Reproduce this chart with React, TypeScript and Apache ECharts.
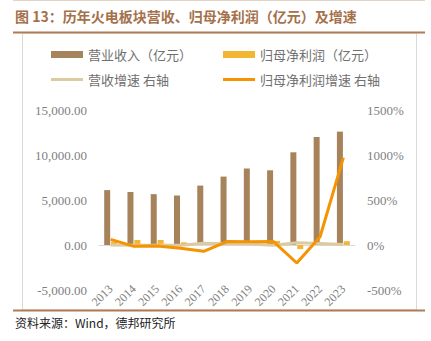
import React, { useEffect, useRef } from "react";
import * as echarts from "echarts";

const years = ["2013", "2014", "2015", "2016", "2017", "2018", "2019", "2020", "2021", "2022", "2023"];
const revenue = [6100, 5900, 5650, 5500, 6600, 7600, 8500, 8300, 10300, 12000, 12600];
const netProfit = [400, 560, 560, 300, 100, 200, 300, 450, -450, -20, 420];
const revenueGrowth = [0, -3, -4, -3, 20, 15, 12, -2, 24, 17, 5];
const profitGrowth = [63, -15, -10, -35, -70, 38, 36, 38, -200, 92, 970];

const leftTicks = [-5000, 15000, 5000];
const rightTicks = [-500, 1500, 500];

const titleText = "图 13：历年火电板块营收、归母净利润（亿元）及增速";
const sourceText = "资料来源：Wind，德邦研究所";

const CJK = "Noto Sans CJK SC";
const SERIF = "Liberation Serif, Times New Roman, serif";

export default function App() {
  const ref = useRef<HTMLDivElement>(null);
  useEffect(() => {
    if (!ref.current) return;
    const chart = echarts.init(ref.current, null, { renderer: "svg" });
    const legendText = { color: "#707070", fontSize: 13, fontFamily: CJK };
    const mkLegend = (name: string, left: number, top: number, line: boolean) => ({
      data: [name],
      left,
      top,
      padding: 0,
      icon: "rect",
      itemWidth: 32,
      itemHeight: line ? 3 : 7,
      itemGap: 0,
      textStyle: legendText,
      selectedMode: false,
    });
    chart.setOption({
      animation: false,
      backgroundColor: "#ffffff",
      graphic: [
        { type: "line", shape: { x1: 13, y1: 0.5, x2: 425, y2: 0.5 }, style: { stroke: "#e3d3c4", lineWidth: 1 } },
        {
          type: "text",
          left: 15,
          top: 9,
          style: { text: titleText, fill: "#a5714a", font: `bold 14px ${CJK}` },
        },
        { type: "rect", shape: { x: 22.5, y: 33, width: 394, height: 277 }, style: { fill: "none", stroke: "#d9d9d9", lineWidth: 1 } },
        { type: "line", shape: { x1: 13, y1: 32.5, x2: 425, y2: 32.5 }, style: { stroke: "#b07a55", lineWidth: 2 } },
        { type: "line", shape: { x1: 13, y1: 310.5, x2: 425, y2: 310.5 }, style: { stroke: "#b07a55", lineWidth: 2 } },
        {
          type: "text",
          left: 15,
          top: 316,
          style: { text: sourceText, fill: "#222", font: `12px ${CJK}` },
        },
      ],
      legend: [
        mkLegend("营业收入（亿元）", 51, 48, false),
        mkLegend("归母净利润（亿元）", 223, 48, false),
        mkLegend("营收增速 右轴", 51, 73, true),
        mkLegend("归母净利润增速 右轴", 223, 73, true),
      ],
      grid: { left: 99, right: 76, top: 110, bottom: 51 },
      xAxis: {
        type: "category",
        data: years,
        axisLine: { lineStyle: { color: "#d9d9d9", width: 1 } },
        axisTick: { show: false },
        axisLabel: { rotate: 45, color: "#7f7f7f", fontSize: 12, fontFamily: SERIF, margin: -3, interval: 0 },
      },
      yAxis: [
        {
          type: "value",
          min: leftTicks[0],
          max: leftTicks[1],
          interval: leftTicks[2],
          splitLine: { show: false },
          axisLine: { show: false },
          axisTick: { show: false },
          axisLabel: {
            color: "#7f7f7f",
            fontSize: 13,
            fontFamily: SERIF,
            margin: 12,
            formatter: (v: number) =>
              v.toLocaleString("en-US", { minimumFractionDigits: 2, maximumFractionDigits: 2 }),
          },
        },
        {
          type: "value",
          min: rightTicks[0],
          max: rightTicks[1],
          interval: rightTicks[2],
          splitLine: { show: false },
          axisLine: { show: false },
          axisTick: { show: false },
          axisLabel: {
            color: "#7f7f7f",
            fontSize: 13,
            fontFamily: SERIF,
            margin: 12,
            formatter: (v: number) => String(v) + "%",
          },
        },
      ],
      series: [
        {
          name: "营业收入（亿元）",
          type: "bar",
          data: revenue,
          barWidth: 6,
          barGap: "15%",
          itemStyle: { color: "#a7835b" },
        },
        {
          name: "归母净利润（亿元）",
          type: "bar",
          data: netProfit,
          barWidth: 6,
          itemStyle: { color: "#f2b632" },
        },
        {
          name: "营收增速 右轴",
          type: "line",
          yAxisIndex: 1,
          data: revenueGrowth,
          symbol: "none",
          lineStyle: { color: "#dccaa2", width: 3 },
          itemStyle: { color: "#dccaa2" },
        },
        {
          name: "归母净利润增速 右轴",
          type: "line",
          yAxisIndex: 1,
          data: profitGrowth,
          symbol: "none",
          lineStyle: { color: "#f59300", width: 3 },
          itemStyle: { color: "#f59300" },
        },
      ],
    });
    return () => chart.dispose();
  }, []);
  return <div ref={ref} style={{ width: 431, height: 341, position: "absolute", left: 0, top: 0 }} />;
}
